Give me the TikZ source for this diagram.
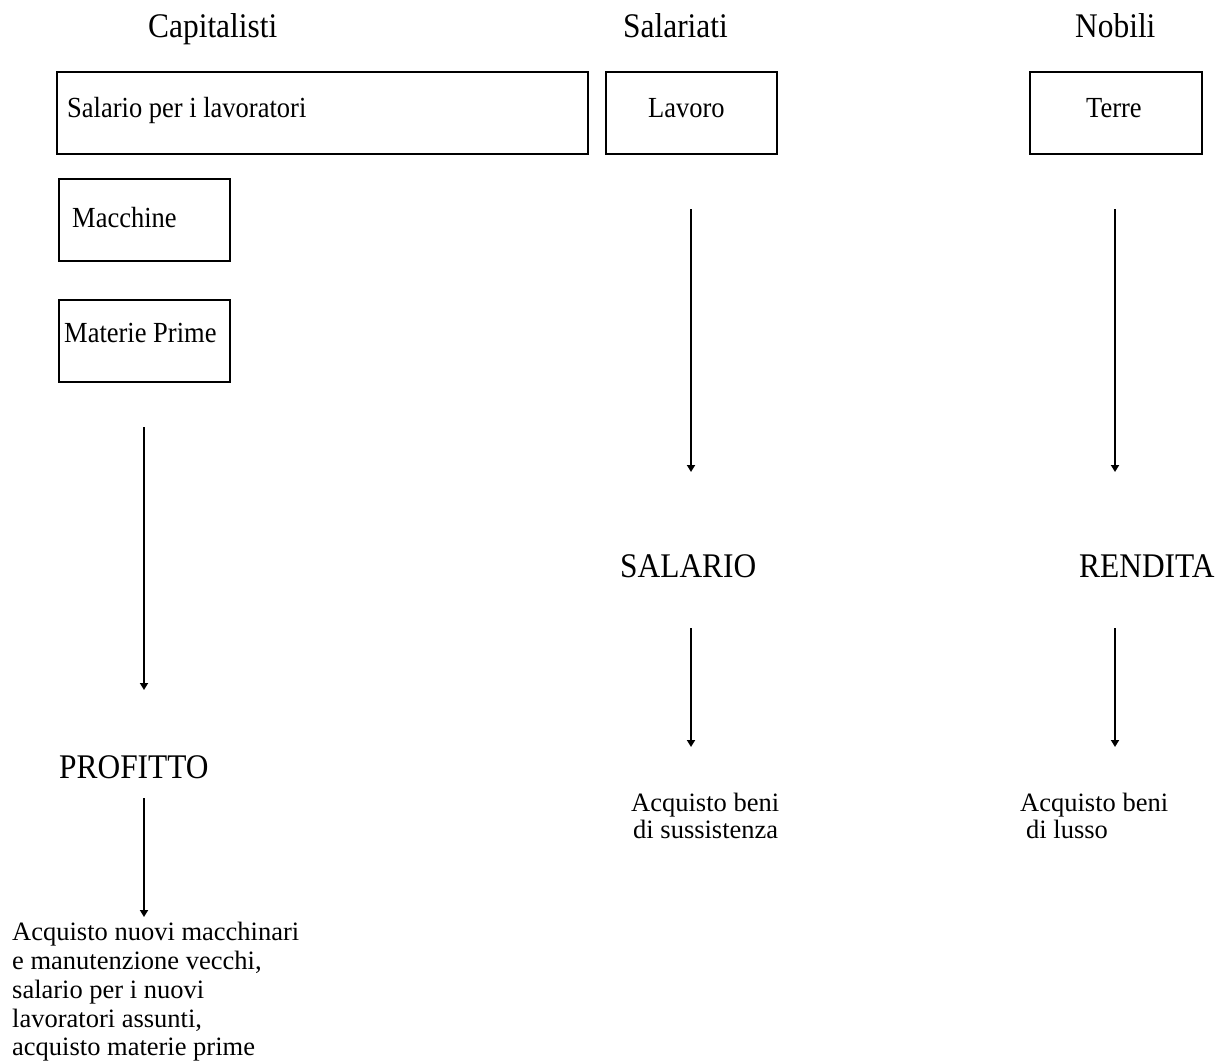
\documentclass[tikz,border=0pt]{standalone}
\usepackage{graphicx}
\usepackage{fontspec}
\setmainfont{Liberation Serif}
\usetikzlibrary{arrows.meta}
\newcommand{\tallx}[1]{\scalebox{1}[1.1]{#1}}
\begin{document}
\begin{tikzpicture}[x=1pt,y=-1pt,
  txt/.style={anchor=base west, inner sep=0pt, font=\fontsize{26.5}{28.7}\selectfont},
  big/.style={anchor=base west, inner sep=0pt, font=\fontsize{31.4}{34}\selectfont},
  box/.style={draw, line width=2pt, anchor=north west, inner sep=0pt},
  arr/.style={line width=2pt, -{Triangle[width=8pt,length=7pt]}}]
\useasboundingbox[fill=white] (0,0) rectangle (1215,1062);

% column headers
\node[big] (hcap) at (148,38) {\tallx{Capitalisti}};
\node[big] (hsal) at (623,38) {\tallx{Salariati}};
\node[big] (hnob) at (1075,38) {\tallx{Nobili}};

% boxes
\node[box, minimum width=531pt, minimum height=82pt] (bsal) at (56,71) {};
\node[txt] (tsal) at (67,118) {\tallx{Salario per i lavoratori}};
\node[box, minimum width=171pt, minimum height=82pt] (blav) at (605,71) {};
\node[txt] (tlav) at (648,118) {\tallx{Lavoro}};
\node[box, minimum width=172pt, minimum height=82pt] (bter) at (1029,71) {};
\node[txt] (tter) at (1086,118) {\tallx{Terre}};
\node[box, minimum width=171pt, minimum height=82pt] (bmac) at (58,178) {};
\node[txt] (tmac) at (72,227) {\tallx{Macchine}};
\node[box, minimum width=171pt, minimum height=82pt] (bmat) at (58,299) {};
\node[txt] (tmat) at (64,342) {\tallx{Materie Prime}};

% middle labels
\node[big] (prof) at (59,778) {\tallx{PROFITTO}};
\node[big] (salr) at (620,577) {\tallx{SALARIO}};
\node[big] (rend) at (1079,577) {\tallx{RENDITA}};

% bottom texts
\node[txt] (p1) at (12,940) {Acquisto nuovi macchinari};
\node[txt] (p2) at (12,969) {e manutenzione vecchi,};
\node[txt] (p3) at (12,998) {salario per i nuovi};
\node[txt] (p4) at (12,1027) {lavoratori assunti,};
\node[txt] (p5) at (12,1055) {acquisto materie prime};

\node[txt] (s1) at (631,811) {Acquisto beni};
\node[txt] (s2) at (633,838) {di sussistenza};
\node[txt] (l1) at (1020,811) {Acquisto beni};
\node[txt] (l2) at (1026,838) {di lusso};

% arrow end points
\coordinate (a1s) at (144,427); \coordinate (a1e) at (144,690);
\coordinate (a2s) at (144,798); \coordinate (a2e) at (144,917);
\coordinate (b1s) at (691,209); \coordinate (b1e) at (691,472);
\coordinate (b2s) at (691,628); \coordinate (b2e) at (691,747);
\coordinate (c1s) at (1115,209); \coordinate (c1e) at (1115,472);
\coordinate (c2s) at (1115,628); \coordinate (c2e) at (1115,747);

\draw[arr] (a1s) -- (a1e);
\draw[arr] (a2s) -- (a2e);
\draw[arr] (b1s) -- (b1e);
\draw[arr] (b2s) -- (b2e);
\draw[arr] (c1s) -- (c1e);
\draw[arr] (c2s) -- (c2e);
\end{tikzpicture}
\end{document}
